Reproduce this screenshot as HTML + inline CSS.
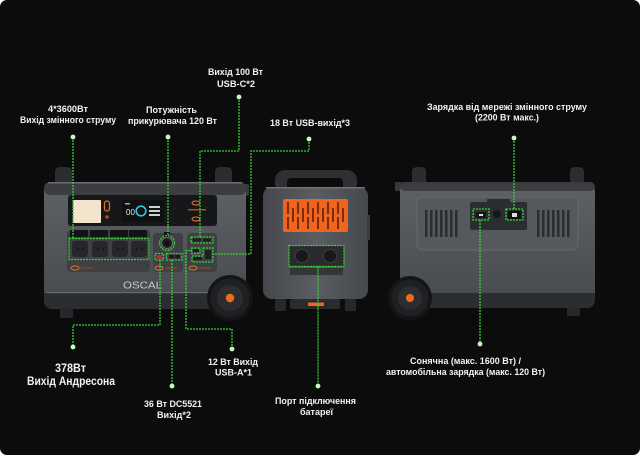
<!DOCTYPE html>
<html><head><meta charset="utf-8"><style>
html,body{margin:0;padding:0;background:#fff;}
#w{width:640px;height:455px;border-radius:7px;background:#0c0c0c;overflow:hidden;position:relative;}
svg{display:block;}
text{font-family:"Liberation Sans","DejaVu Sans",sans-serif;font-weight:bold;fill:#f2f2f2;}
</style></head><body><div id="w">
<svg width="640" height="455" viewBox="0 0 640 455" xmlns="http://www.w3.org/2000/svg">
<defs>
<linearGradient id="bg1" x1="0" y1="0" x2="0" y2="1"><stop offset="0" stop-color="#5e6166"/><stop offset="1" stop-color="#46494d"/></linearGradient>
<linearGradient id="bg2" x1="0" y1="0" x2="1" y2="0"><stop offset="0" stop-color="#44474b"/><stop offset="0.5" stop-color="#5a5d62"/><stop offset="1" stop-color="#45484c"/></linearGradient>
</defs>

<!-- ===== LEFT UNIT (front) ===== -->
<path d="M55 185 L55 172 Q55 167 60 167 L67 167 Q72 167 72 172 L72 185 Z" fill="#2c2d30"/>
<path d="M215 185 L215 172 Q215 167 220 167 L227 167 Q232 167 232 172 L232 185 Z" fill="#2c2d30"/>
<rect x="242" y="184" width="7" height="12" rx="1" fill="#37393c"/>
<rect x="44" y="182" width="202" height="127" rx="9" fill="url(#bg1)"/>
<rect x="44" y="182" width="202" height="13" rx="6" fill="#3b3d41"/>
<rect x="48" y="182" width="194" height="1.5" fill="#6c6f74"/>
<path d="M44 293 L246 293 L246 300 Q246 309 237 309 L53 309 Q44 309 44 300 Z" fill="#2b2d30"/>
<rect x="46" y="292" width="198" height="1.2" fill="#66696e"/>
<!-- control strip -->
<rect x="68" y="195" width="149" height="31" rx="3" fill="#161719"/>
<rect x="73" y="200" width="28" height="23" rx="1" fill="#f3e4cc"/>
<rect x="104.5" y="201" width="5" height="10" rx="2.5" fill="none" stroke="#e8702a" stroke-width="1.2"/>
<circle cx="107" cy="217" r="1.8" fill="#b0501c"/>
<rect x="122" y="200" width="42" height="22" rx="1" fill="#0f1012"/>
<text x="126" y="215" style="font-size:8px;font-weight:normal;fill:#e6e6e6">00</text>
<circle cx="141" cy="211" r="4.8" fill="none" stroke="#2fc8e0" stroke-width="1.6"/>
<rect x="149" y="206" width="11" height="2" fill="#cfcfcf"/>
<rect x="149" y="210" width="11" height="2" fill="#cfcfcf"/>
<rect x="149" y="214" width="11" height="2" fill="#cfcfcf"/>
<rect x="125" y="203" width="5" height="1.5" fill="#aaa"/>
<ellipse cx="196" cy="203" rx="4" ry="2" fill="none" stroke="#e8702a" stroke-width="1.1"/>
<rect x="188" y="209" width="18" height="1.5" fill="#b0501c"/>
<ellipse cx="196" cy="219" rx="4" ry="2" fill="none" stroke="#e8702a" stroke-width="1.1"/>
<!-- panels -->
<rect x="67" y="230" width="83" height="42" rx="4" fill="#3e4044"/>
<rect x="153" y="233" width="30" height="39" rx="4" fill="#3e4044"/>
<rect x="187" y="233" width="30" height="39" rx="4" fill="#3e4044"/>
<!-- plug stubs -->
<rect x="70" y="230" width="18" height="7" rx="1" fill="#121314"/>
<rect x="90" y="230" width="18" height="7" rx="1" fill="#121314"/>
<rect x="110" y="230" width="18" height="7" rx="1" fill="#121314"/>
<rect x="129" y="230" width="18" height="7" rx="1" fill="#121314"/>
<rect x="164" y="232" width="6" height="5" fill="#121314"/>
<!-- sockets -->
<g fill="#26272a">
<rect x="72" y="241" width="16" height="16" rx="3"/>
<rect x="92" y="241" width="16" height="16" rx="3"/>
<rect x="112" y="241" width="16" height="16" rx="3"/>
<rect x="131" y="241" width="16" height="16" rx="3"/>
</g>
<g fill="#0e0e0f">
<circle cx="78" cy="249" r="0.9"/><circle cx="83" cy="249" r="0.9"/>
<circle cx="98" cy="249" r="0.9"/><circle cx="103" cy="249" r="0.9"/>
<circle cx="118" cy="249" r="0.9"/><circle cx="123" cy="249" r="0.9"/>
<circle cx="137" cy="249" r="0.9"/><circle cx="142" cy="249" r="0.9"/>
</g>
<!-- cig lighter -->
<circle cx="167" cy="243" r="5.5" fill="#1a1b1d" stroke="#707277" stroke-width="1"/>
<circle cx="167" cy="243" r="2" fill="#0c0c0c"/>
<rect x="157" y="255" width="5" height="4" fill="#c0282a"/>
<rect x="169" y="255" width="5" height="3.5" fill="#1a1b1d"/>
<rect x="175" y="255" width="5" height="3.5" fill="#1a1b1d"/>
<rect x="193" y="238.5" width="8" height="3" fill="#1e1f21"/>
<rect x="203" y="238.5" width="8" height="3" fill="#1e1f21"/>
<rect x="193" y="249" width="6" height="3" fill="#1e1f21"/>
<rect x="205" y="250" width="6" height="9" fill="#1e1f21"/>
<rect x="193" y="257" width="9" height="3" fill="#1e1f21"/>
<!-- orange labels -->
<ellipse cx="75" cy="268" rx="4" ry="2" fill="none" stroke="#e8702a" stroke-width="1"/>
<rect x="81" y="267.5" width="12" height="1" fill="#9a4a1c"/>
<ellipse cx="159" cy="268" rx="4" ry="2" fill="none" stroke="#e8702a" stroke-width="1"/>
<rect x="165" y="267.5" width="12" height="1" fill="#9a4a1c"/>
<ellipse cx="193" cy="268" rx="4" ry="2" fill="none" stroke="#e8702a" stroke-width="1"/>
<rect x="199" y="267.5" width="12" height="1" fill="#9a4a1c"/>
<text x="142.5" y="288.5" textLength="39" lengthAdjust="spacingAndGlyphs" text-anchor="middle" style="font-size:10px;font-weight:normal;fill:#c6c8cb">OSCAL</text>
<!-- foot -->
<rect x="60" y="308" width="13" height="10" rx="1" fill="#27282b"/>
<!-- wheel -->
<circle cx="230" cy="298" r="23" fill="#141516"/>
<circle cx="230" cy="298" r="19.5" fill="#1f2022"/>
<circle cx="230" cy="298" r="13" fill="#2c2d30"/>
<circle cx="230" cy="298" r="4.2" fill="#f26b1d"/>

<!-- ===== MIDDLE UNIT ===== -->
<rect x="275" y="170" width="82" height="24" rx="10" fill="#2f3033"/>
<rect x="287" y="178" width="56" height="14" rx="4" fill="#0c0c0c"/>
<rect x="263" y="187" width="105" height="112" rx="9" fill="url(#bg2)"/>
<rect x="266" y="187" width="99" height="1.5" fill="#6f7277"/>
<g stroke="#4a4d51" stroke-width="0.8">
<line x1="270" y1="192" x2="270" y2="295"/><line x1="276" y1="192" x2="276" y2="295"/>
<line x1="355" y1="192" x2="355" y2="295"/><line x1="361" y1="192" x2="361" y2="295"/>
</g>
<rect x="283" y="199" width="65" height="33" rx="2" fill="#ef641e"/>
<g fill="#7a2c0c">
<rect x="287" y="202" width="2" height="12"/><rect x="292" y="208" width="2" height="14"/><rect x="297" y="202" width="2" height="12"/>
<rect x="302" y="208" width="2" height="14"/><rect x="307" y="202" width="2" height="12"/><rect x="312" y="208" width="2" height="14"/>
<rect x="317" y="202" width="2" height="12"/><rect x="322" y="208" width="2" height="14"/><rect x="327" y="202" width="2" height="12"/>
<rect x="332" y="208" width="2" height="14"/><rect x="337" y="202" width="2" height="12"/><rect x="342" y="208" width="2" height="14"/>
<rect x="287" y="217" width="2" height="12"/><rect x="297" y="217" width="2" height="12"/><rect x="307" y="217" width="2" height="12"/>
<rect x="317" y="217" width="2" height="12"/><rect x="327" y="217" width="2" height="12"/><rect x="337" y="217" width="2" height="12"/>
</g>
<rect x="289" y="246" width="55" height="20" fill="#2a2b2e"/>
<circle cx="302" cy="256" r="6.5" fill="#17181a" stroke="#444" stroke-width="0.8"/>
<circle cx="330" cy="256" r="6.5" fill="#17181a" stroke="#444" stroke-width="0.8"/>
<rect x="290" y="268" width="53" height="7" fill="#333538"/>
<rect x="290" y="299" width="50" height="10" rx="2" fill="#2a2b2e"/>
<rect x="308" y="302.5" width="16" height="3.5" fill="#ef641e"/>
<rect x="275" y="299" width="11" height="12" rx="1" fill="#27282b"/>
<rect x="345" y="299" width="11" height="12" rx="1" fill="#27282b"/>
<rect x="367" y="215" width="3" height="25" fill="#3a3c40"/>

<!-- ===== RIGHT UNIT (back) ===== -->
<path d="M412 184 L412 172 Q412 167 417 167 L421 167 Q426 167 426 172 L426 184 Z" fill="#2c2d30"/>
<path d="M570 184 L570 172 Q570 167 575 167 L579 167 Q584 167 584 172 L584 184 Z" fill="#2c2d30"/>
<rect x="395" y="182" width="7" height="9" rx="1" fill="#37393c"/>
<rect x="400" y="182" width="195" height="126" rx="9" fill="url(#bg1)"/>
<rect x="400" y="182" width="195" height="9" rx="5" fill="#3b3d41"/>
<rect x="417" y="197" width="161" height="53" rx="6" fill="#55585d" stroke="#6b6e73" stroke-width="0.8"/>
<g fill="#2b2d30">
<rect x="425" y="210" width="2.5" height="27"/><rect x="430" y="210" width="2.5" height="27"/><rect x="435" y="210" width="2.5" height="27"/><rect x="440" y="210" width="2.5" height="27"/>
<rect x="445" y="210" width="2.5" height="27"/><rect x="450" y="210" width="2.5" height="27"/><rect x="455" y="210" width="2.5" height="27"/>
<rect x="537" y="210" width="2.5" height="27"/><rect x="542" y="210" width="2.5" height="27"/><rect x="547" y="210" width="2.5" height="27"/><rect x="552" y="210" width="2.5" height="27"/>
<rect x="557" y="210" width="2.5" height="27"/><rect x="562" y="210" width="2.5" height="27"/><rect x="567" y="210" width="2.5" height="27"/>
</g>
<rect x="487" y="199" width="23" height="5" rx="1" fill="#2c2d30"/>
<rect x="470" y="202" width="57" height="28" rx="2" fill="#2c2d30"/>
<rect x="476" y="212" width="10" height="6" fill="#161617"/>
<rect x="479" y="214" width="4" height="2" fill="#ddd"/>
<circle cx="497" cy="214" r="4" fill="#161617"/>
<rect x="508" y="211" width="13" height="8" fill="#111"/>
<rect x="512" y="213" width="5" height="4" fill="#ddd"/>
<path d="M400 293 L595 293 L595 299 Q595 308 586 308 L409 308 Q400 308 400 299 Z" fill="#2b2d30"/>
<rect x="567" y="307" width="13" height="9" rx="1" fill="#27282b"/>
<circle cx="410" cy="298" r="22" fill="#141516"/>
<circle cx="410" cy="298" r="18.5" fill="#1f2022"/>
<circle cx="410" cy="298" r="12" fill="#2c2d30"/>
<circle cx="410" cy="298" r="4" fill="#f26b1d"/>

<!-- ===== GREEN CALLOUTS ===== -->
<g fill="none" stroke="#33d133" stroke-width="1.3" stroke-dasharray="2 1">
<rect x="69" y="238.5" width="80" height="21"/>
<circle cx="167" cy="243" r="7.5"/>
<rect x="155" y="253.5" width="8.5" height="6.5"/>
<rect x="166.5" y="253.5" width="15.5" height="6.5"/>
<rect x="191" y="237" width="22" height="6"/>
<rect x="191.5" y="248" width="8.5" height="5.5"/>
<path d="M203 248 L213 248 L213 262 L192 262 L192 256 L203 256 Z"/>
<rect x="289" y="245.5" width="55" height="21"/>
<rect x="473" y="209" width="16" height="11"/>
<rect x="506" y="209" width="17" height="11"/>
<path d="M73 137 V238.5"/>
<path d="M168 137 V235.5"/>
<path d="M239 97 V151 H200 V237"/>
<path d="M309 139 V151 H251 V254 H213"/>
<path d="M514 138 V209"/>
<path d="M480 220 V344"/>
<path d="M318 266.5 V386"/>
<path d="M160 260 V325 H73 V347"/>
<path d="M172 260 V386"/>
<path d="M232 349 V329 H186 V250.5 H191.5"/>
</g>
<g fill="#c8f7bf">
<circle cx="73" cy="137" r="2.4"/><circle cx="168" cy="137" r="2.4"/><circle cx="239" cy="97" r="2.4"/>
<circle cx="309" cy="139" r="2.4"/><circle cx="514" cy="138" r="2.4"/><circle cx="480" cy="344" r="2.4"/>
<circle cx="318" cy="386" r="2.4"/><circle cx="73" cy="347" r="2.4"/><circle cx="172" cy="386" r="2.4"/>
<circle cx="232" cy="349" r="2.4"/>
</g>

<!-- ===== LABELS ===== -->
<g text-anchor="middle" style="font-size:9.5px">
<text x="68" y="112" textLength="40" lengthAdjust="spacingAndGlyphs">4*3600Вт</text>
<text x="68" y="123" textLength="96" lengthAdjust="spacingAndGlyphs">Вихід змінного струму</text>
<text x="171.5" y="113" textLength="51" lengthAdjust="spacingAndGlyphs">Потужність</text>
<text x="172.5" y="124" textLength="89" lengthAdjust="spacingAndGlyphs">прикурювача 120 Вт</text>
<text x="235.5" y="75" textLength="55" lengthAdjust="spacingAndGlyphs">Вихід 100 Вт</text>
<text x="236" y="87" textLength="38" lengthAdjust="spacingAndGlyphs">USB-C*2</text>
<text x="310" y="126" textLength="80" lengthAdjust="spacingAndGlyphs">18 Вт USB-вихід*3</text>
<text x="507" y="110" textLength="160" lengthAdjust="spacingAndGlyphs">Зарядка від мережі змінного струму</text>
<text x="507" y="120.5" textLength="64" lengthAdjust="spacingAndGlyphs">(2200 Вт макс.)</text>
<text x="233" y="365" textLength="50" lengthAdjust="spacingAndGlyphs">12 Вт Вихід</text>
<text x="233.5" y="375.5" textLength="37" lengthAdjust="spacingAndGlyphs">USB-A*1</text>
<text x="173" y="407" textLength="58" lengthAdjust="spacingAndGlyphs">36 Вт DC5521</text>
<text x="174" y="418" textLength="34" lengthAdjust="spacingAndGlyphs">Вихід*2</text>
<text x="315.5" y="404" textLength="81" lengthAdjust="spacingAndGlyphs">Порт підключення</text>
<text x="316.5" y="415" textLength="33" lengthAdjust="spacingAndGlyphs">батареї</text>
<text x="465.5" y="364" textLength="111" lengthAdjust="spacingAndGlyphs">Сонячна (макс. 1600 Вт) /</text>
<text x="465.5" y="375" textLength="159" lengthAdjust="spacingAndGlyphs">автомобільна зарядка (макс. 120 Вт)</text>
</g>
<g text-anchor="middle" style="font-size:12px">
<text x="70.5" y="372" textLength="31" lengthAdjust="spacingAndGlyphs">378Вт</text>
<text x="71" y="385" textLength="88" lengthAdjust="spacingAndGlyphs">Вихід Андресона</text>
</g>
</svg>
</div></body></html>
